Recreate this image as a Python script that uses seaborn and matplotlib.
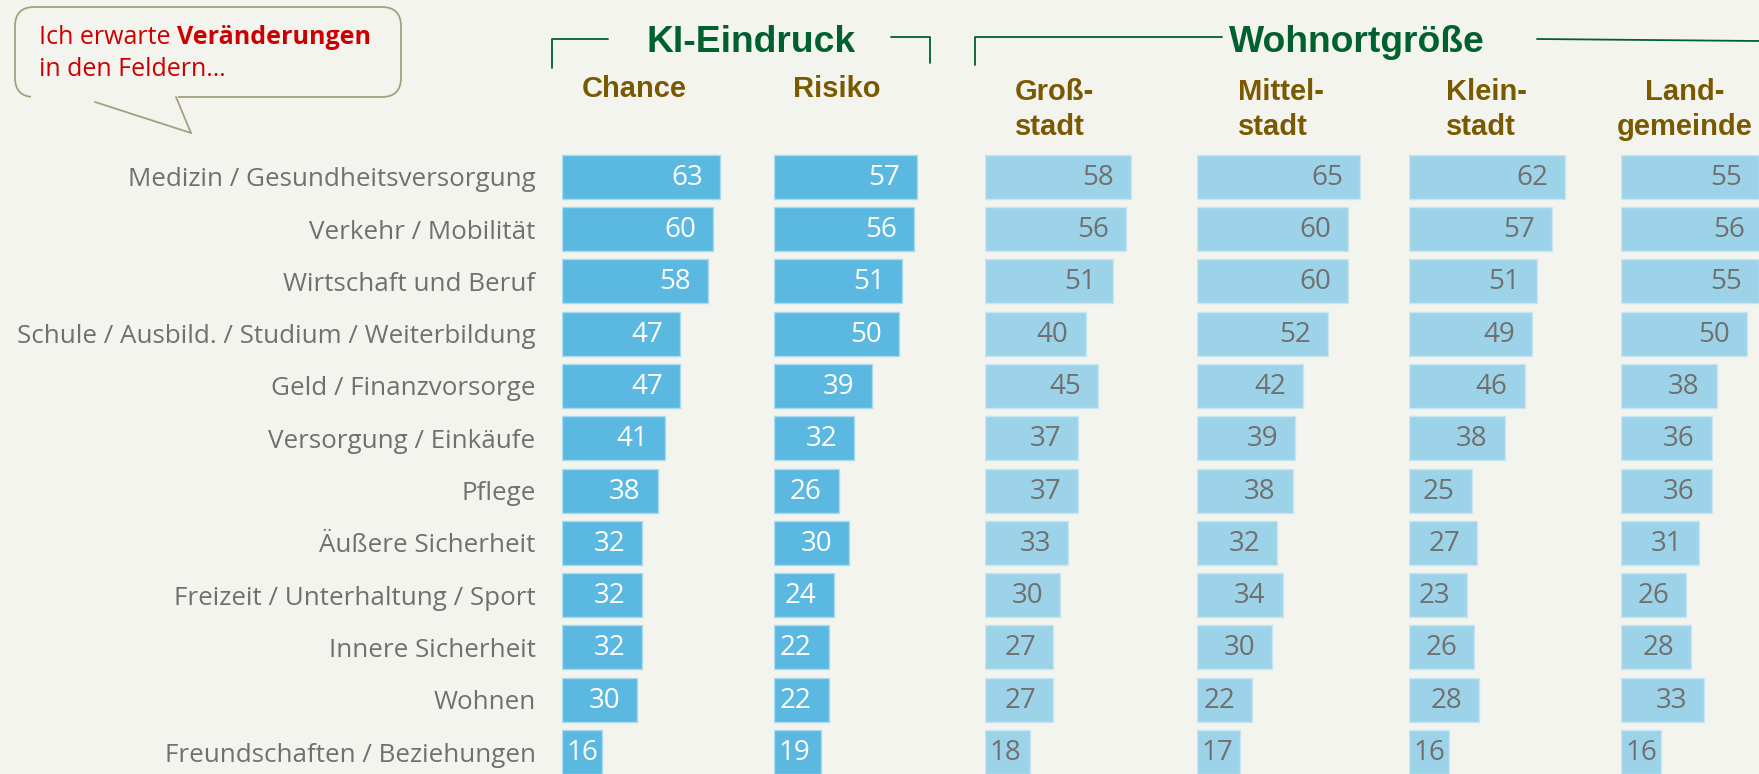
import numpy as np
import pandas as pd
import matplotlib
matplotlib.use("Agg")
import matplotlib.pyplot as plt
from matplotlib.patches import FancyBboxPatch
from matplotlib.lines import Line2D
import seaborn as sns

# data
categories = [
    "Medizin / Gesundheitsversorgung",
    "Verkehr / Mobilität",
    "Wirtschaft und Beruf",
    "Schule / Ausbild. / Studium / Weiterbildung",
    "Geld / Finanzvorsorge",
    "Versorgung / Einkäufe",
    "Pflege",
    "Äußere Sicherheit",
    "Freizeit / Unterhaltung / Sport",
    "Innere Sicherheit",
    "Wohnen",
    "Freundschaften / Beziehungen",
]
chance = [63, 60, 58, 47, 47, 41, 38, 32, 32, 32, 30, 16]
risiko = [57, 56, 51, 50, 39, 32, 26, 30, 24, 22, 22, 19]
grossstadt = [58, 56, 51, 40, 45, 37, 37, 33, 30, 27, 27, 18]
mittelstadt = [65, 60, 60, 52, 42, 39, 38, 32, 34, 30, 22, 17]
kleinstadt = [62, 57, 51, 49, 46, 38, 25, 27, 23, 26, 28, 16]
landgemeinde = [55, 56, 55, 50, 38, 36, 36, 31, 26, 28, 33, 16]

panels = [
    ("Chance", chance, "dark"),
    ("Risiko", risiko, "dark"),
    ("Großstadt", grossstadt, "light"),
    ("Mittelstadt", mittelstadt, "light"),
    ("Kleinstadt", kleinstadt, "light"),
    ("Landgemeinde", landgemeinde, "light"),
]

BG = "#F4F4EF"
DARK = "#5AB8E1"
LIGHT = "#9DD3E8"
GREEN = "#00612E"
BROWN = "#7A5A00"
GRAY = "#707070"
RED = "#CC0000"

W, H = 1759, 774
sns.set_style("white")
plt.rcParams["font.family"] = ["Open Sans", "DejaVu Sans"]

fig = plt.figure(figsize=(W / 100, H / 100), dpi=100, facecolor=BG)


def fx(x):
    return x / W


def fy(y):
    return 1 - y / H


px_per_unit = 2.515
panel_left = [562, 773.5, 985, 1197, 1409, 1621]
panel_w = 211.8
row_pitch = 52.3
bar_h = 0.84

for k, (name, vals, tone) in enumerate(panels):
    ax = fig.add_axes([fx(panel_left[k]), 0, fx(panel_w), 12 * row_pitch / H])
    ax.set_facecolor("none")
    df = pd.DataFrame({"Feld": categories, "Wert": vals})
    color = DARK if tone == "dark" else LIGHT
    edge = "#A9DAF0" if tone == "dark" else "#C6E6F3"
    sns.barplot(data=df, x="Wert", y="Feld", orient="h", color=color,
                width=bar_h, edgecolor=edge, linewidth=1, saturation=1, ax=ax)
    ax.set_xlim(0, panel_w / px_per_unit)
    ax.set_ylim(11 + bar_h / 2, -1 + bar_h / 2)
    ax.set_xlabel("")
    ax.set_ylabel("")
    ax.set_xticks([])
    for s in ax.spines.values():
        s.set_visible(False)
    if k == 0:
        ax.tick_params(axis="y", left=False, length=0, pad=19, labelsize=18.7,
                       labelcolor=GRAY)
    else:
        ax.set_yticks([])
    tcol = "white" if tone == "dark" else GRAY
    for i, v in enumerate(vals):
        xr = max(v - 17 / px_per_unit, 14.5)
        ax.text(xr, i + 0.02, str(v), ha="right", va="center", color=tcol,
                fontsize=20, clip_on=False)

# group headers
head_kw = dict(ha="center", va="baseline", fontsize=26.8, fontweight="bold",
               color=GREEN, family="Liberation Sans")
fig.text(fx(751), fy(52), "KI-Eindruck", **head_kw)
fig.text(fx(1357), fy(52), "Wohnortgröße", **head_kw)

line_kw = dict(color=GREEN, lw=1.3, transform=fig.transFigure)
for xs, ys in [
    ([552, 552, 608], [68, 39, 39]),
    ([891, 930, 930], [37, 37, 63]),
    ([975, 975, 1222], [65, 37, 37]),
    ([1537, 1759], [39, 41]),
]:
    fig.add_artist(Line2D([fx(x) for x in xs], [fy(y) for y in ys], **line_kw))

# column headers
sub_kw = dict(fontsize=21, fontweight="bold", color=BROWN, family="Liberation Sans",
              va="baseline")
fig.text(fx(634), fy(97), "Chance", ha="center", **sub_kw)
fig.text(fx(837), fy(97), "Risiko", ha="center", **sub_kw)
for x, l1, l2, ha in [(1015, "Groß-", "stadt", "left"),
                      (1238, "Mittel-", "stadt", "left"),
                      (1446, "Klein-", "stadt", "left"),
                      (1685, "Land-", "gemeinde", "center")]:
    fig.text(fx(x), fy(100), l1, ha=ha, **sub_kw)
    fig.text(fx(x), fy(135), l2, ha=ha, **sub_kw)

# speech bubble
OLIVE = "#A3A07C"
box = FancyBboxPatch((fx(15), fy(97)), fx(386), 90 / H,
                     boxstyle="round,pad=0,rounding_size=0.011",
                     transform=fig.transFigure, facecolor=BG, edgecolor=OLIVE, lw=1.3,
                     mutation_aspect=W / H)
fig.add_artist(box)
fig.add_artist(Line2D([fx(33), fx(176)], [fy(97), fy(97)], color=BG, lw=3,
                      transform=fig.transFigure))
fig.add_artist(Line2D([fx(95), fx(191)], [fy(102), fy(133)], color=OLIVE, lw=1.3,
                      transform=fig.transFigure))
fig.add_artist(Line2D([fx(176), fx(191)], [fy(97), fy(133)], color=OLIVE, lw=1.3,
                      transform=fig.transFigure))

t1 = fig.text(fx(39), fy(44), "Ich erwarte ", ha="left", va="baseline",
              fontsize=18, color=RED)
fig.canvas.draw()
bb = t1.get_window_extent()
fig.text(bb.x1 / W, fy(44), "Veränderungen", ha="left", va="baseline",
         fontsize=18, color=RED, fontweight="bold")
fig.text(fx(39), fy(76), "in den Feldern…", ha="left", va="baseline",
         fontsize=18, color=RED)

fig.savefig("out.png", dpi=100, facecolor=BG)
